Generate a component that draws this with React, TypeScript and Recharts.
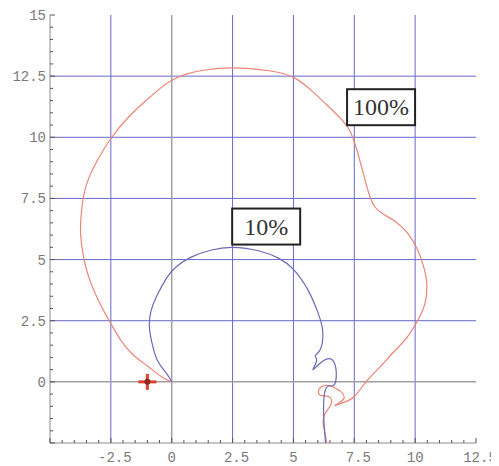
import { ScatterChart, Scatter, XAxis, YAxis, ReferenceLine } from 'recharts'

// Axis ticks and labels
const xMajor = [-5, -2.5, 0, 2.5, 5, 7.5, 10, 12.5]
const xLabels = ['', '-2.5', '0', '2.5', '5', '7.5', '10', '12.5']
const yMajor = [-2.5, 0, 2.5, 5, 7.5, 10, 12.5, 15]
const yLabels = ['', '0', '2.5', '5', '7.5', '10', '12.5', '15']
const xMinor = Array.from({ length: 36 }, (_, i) => -5 + i * 0.5)
const yMinor = Array.from({ length: 36 }, (_, i) => -2.5 + i * 0.5)

// 100% curve
const curve100 = [
  { x: 0, y: 0 }, { x: -0.4, y: 0.2 }, { x: -1.0, y: 0.65 }, { x: -1.6, y: 1.12 },
  { x: -2.1, y: 1.72 }, { x: -2.5, y: 2.38 }, { x: -2.95, y: 3.2 }, { x: -3.35, y: 4.12 },
  { x: -3.6, y: 5.0 }, { x: -3.74, y: 6.0 }, { x: -3.72, y: 6.8 }, { x: -3.62, y: 7.6 },
  { x: -3.4, y: 8.35 }, { x: -3.0, y: 9.15 }, { x: -2.5, y: 9.95 }, { x: -1.75, y: 10.85 },
  { x: -1.0, y: 11.55 }, { x: -0.5, y: 11.98 }, { x: 0, y: 12.33 }, { x: 0.6, y: 12.58 },
  { x: 1.3, y: 12.74 }, { x: 2.5, y: 12.84 }, { x: 4.0, y: 12.72 }, { x: 5.0, y: 12.45 },
  { x: 5.7, y: 11.95 }, { x: 6.4, y: 11.3 }, { x: 7.0, y: 10.7 }, { x: 7.35, y: 10.2 },
  { x: 7.6, y: 9.5 }, { x: 7.85, y: 8.6 }, { x: 8.1, y: 7.7 }, { x: 8.35, y: 7.15 },
  { x: 8.7, y: 6.85 }, { x: 9.2, y: 6.55 }, { x: 9.7, y: 6.07 }, { x: 10.1, y: 5.4 },
  { x: 10.35, y: 4.7 }, { x: 10.48, y: 4.0 }, { x: 10.4, y: 3.2 }, { x: 10.1, y: 2.5 },
  { x: 9.65, y: 1.8 }, { x: 9.1, y: 1.2 }, { x: 8.5, y: 0.55 }, { x: 7.98, y: 0 },
  { x: 7.5, y: -0.6 }, { x: 7.05, y: -0.85 }, { x: 6.7, y: -0.97 }, { x: 7.05, y: -0.72 },
  { x: 6.95, y: -0.4 }, { x: 6.6, y: -0.2 }, { x: 6.3, y: -0.15 }, { x: 6.05, y: -0.3 },
  { x: 6.1, y: -0.55 }, { x: 6.45, y: -0.6 }, { x: 6.55, y: -0.9 }, { x: 6.3, y: -1.3 },
  { x: 6.22, y: -1.7 }, { x: 6.3, y: -2.1 }, { x: 6.36, y: -2.5 },
]

// 10% curve
const curve10 = [
  { x: 0, y: 0 }, { x: -0.2, y: 0.33 }, { x: -0.58, y: 0.86 }, { x: -0.83, y: 1.68 },
  { x: -0.92, y: 2.3 }, { x: -0.85, y: 2.9 }, { x: -0.62, y: 3.5 }, { x: -0.2, y: 4.26 },
  { x: 0.2, y: 4.72 }, { x: 0.8, y: 5.1 }, { x: 1.6, y: 5.38 }, { x: 2.5, y: 5.5 },
  { x: 3.6, y: 5.35 }, { x: 4.4, y: 5.05 }, { x: 5.0, y: 4.6 }, { x: 5.6, y: 3.75 },
  { x: 6.0, y: 2.85 }, { x: 6.2, y: 2.1 }, { x: 6.12, y: 1.35 }, { x: 5.9, y: 1.07 },
  { x: 5.95, y: 0.85 }, { x: 5.8, y: 0.5 }, { x: 6.12, y: 0.78 }, { x: 6.53, y: 0.94 },
  { x: 6.74, y: 0.57 }, { x: 6.74, y: 0.04 }, { x: 6.6, y: -0.16 }, { x: 6.32, y: -0.3 },
  { x: 6.24, y: -1.3 }, { x: 6.32, y: -2.5 },
]

const criticalPoint = [{ x: -1, y: 0 }]

const boxLabels = [
  { x: 3.88, y: 6.35, text: '10%' },
  { x: 8.6, y: 11.23, text: '100%' },
]

const gridColor = '#6868cc'
const frameColor = '#8a8a8a'
const tickColor = '#555'
const labelFont = "'Liberation Mono', 'DejaVu Sans Mono', monospace"

const isMajor = (v) => Math.abs(v / 2.5 - Math.round(v / 2.5)) < 1e-6

const makeTick = (side) => (props) => {
  const { x, y, payload } = props
  const v = payload.value
  const major = isMajor(v)
  const len = major ? 5 : 3
  if (side === 'bottom') {
    const i = xMajor.indexOf(v)
    const label = major && i >= 0 ? xLabels[i] : ''
    return (
      <g>
        <line x1={x} y1={y} x2={x} y2={y - len} stroke={tickColor} />
        {label && (
          <text x={x + (label.includes('.') ? 4 : 0)} y={y + 19} textAnchor='middle'
            fontFamily={labelFont} fontSize={14} fill='#7a7a7a'>{label}</text>
        )}
      </g>
    )
  }
  if (side === 'left') {
    const i = yMajor.indexOf(v)
    const label = major && i >= 0 ? yLabels[i] : ''
    return (
      <g>
        <line x1={x} y1={y} x2={x + len} y2={y} stroke={tickColor} />
        {label && (
          <text x={x - 4} y={y + 5} textAnchor='end'
            fontFamily={labelFont} fontSize={14} fill='#7a7a7a'>{label}</text>
        )}
      </g>
    )
  }
  if (side === 'top') return <line x1={x} y1={y} x2={x} y2={y + len} stroke={tickColor} />
  return <line x1={x} y1={y} x2={x - len} y2={y} stroke={tickColor} />
}

const noDot = () => <g />

const renderMarker = ({ cx, cy }) => (
  <g>
    <line x1={cx - 9} y1={cy} x2={cx + 9} y2={cy} stroke='#e0402c' strokeWidth={3} />
    <line x1={cx} y1={cy - 8} x2={cx} y2={cy + 8} stroke='#e0402c' strokeWidth={3} />
    <circle cx={cx} cy={cy} r={3} fill='#8a2a20' />
  </g>
)

const renderBox = ({ cx, cy, payload }) => (
  <g>
    <rect x={cx - 34} y={cy - 18} width={68} height={36} fill='#fff' stroke='#222' strokeWidth={2} />
    <text x={cx} y={cy + 8} textAnchor='middle' fontFamily="'Liberation Serif', serif"
      fontSize={24} fill='#333'>{payload.text}</text>
  </g>
)

export default function App() {
  return (
    <ScatterChart width={491} height={458} margin={{ top: 7, right: 23, bottom: 0, left: 0 }}>
      <XAxis dataKey='x' type='number' domain={[-5, 12.5]} ticks={xMinor} interval={0}
        height={23} tickSize={0} tickMargin={0} tickLine={false}
        axisLine={{ stroke: frameColor }} tick={makeTick('bottom')} allowDataOverflow />
      <XAxis xAxisId='top' orientation='top' dataKey='x' type='number' domain={[-5, 12.5]}
        ticks={xMinor} interval={0} height={0} tickSize={0} tickMargin={0} tickLine={false}
        axisLine={{ stroke: frameColor }} tick={makeTick('top')} allowDataOverflow />
      <YAxis dataKey='y' type='number' domain={[-2.5, 15]} ticks={yMinor} interval={0}
        width={42} tickSize={0} tickMargin={0} tickLine={false}
        axisLine={{ stroke: frameColor }} tick={makeTick('left')} allowDataOverflow />
      <YAxis yAxisId='right' orientation='right' dataKey='y' type='number' domain={[-2.5, 15]}
        ticks={yMinor} interval={0} width={0} tickSize={0} tickMargin={0} tickLine={false}
        axisLine={{ stroke: frameColor }} tick={makeTick('right')} allowDataOverflow />

      {xMajor.filter((v) => v !== 0 && v > -5 && v < 12.5).map((v) => (
        <ReferenceLine key={`gx${v}`} x={v} stroke={gridColor} strokeWidth={1} />
      ))}
      {yMajor.filter((v) => v !== 0 && v > -2.5 && v < 15).map((v) => (
        <ReferenceLine key={`gy${v}`} y={v} stroke={gridColor} strokeWidth={1} />
      ))}
      <ReferenceLine x={0} stroke='#a0a0a0' strokeWidth={1.5} />
      <ReferenceLine y={0} stroke='#a0a0a0' strokeWidth={1.5} />

      <Scatter data={curve100} line={{ stroke: '#ee8474', strokeWidth: 1.2 }} lineType='joint'
        lineJointType='natural' shape={noDot} isAnimationActive={false} />
      <Scatter data={curve10} line={{ stroke: '#6a6ab8', strokeWidth: 1.2 }} lineType='joint'
        lineJointType='natural' shape={noDot} isAnimationActive={false} />
      <Scatter data={criticalPoint} shape={renderMarker} isAnimationActive={false} />
      <Scatter data={boxLabels} shape={renderBox} isAnimationActive={false} />
    </ScatterChart>
  )
}
